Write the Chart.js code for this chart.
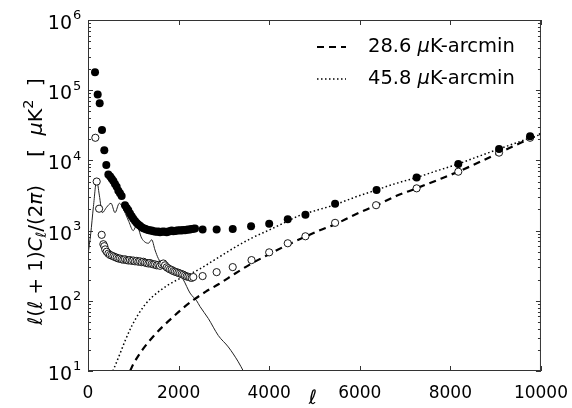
<!DOCTYPE html>
<html>
<head>
<meta charset="utf-8">
<script src="https://cdn.jsdelivr.net/npm/chart.js@4/dist/chart.umd.min.js"></script>
<style>
  html, body { margin: 0; padding: 0; background: #fff; }
  #wrap { width: 572px; height: 408px; }
</style>
</head>
<body>
<div id="wrap"><canvas id="myChart" width="572" height="408"></canvas></div>
<script>
// filled dots
var filledL = [155, 214, 258, 309, 360, 404, 449, 490, 525, 560, 596, 633, 670, 706, 743,
    817, 855, 890, 927, 964, 1000, 1038, 1075, 1110, 1148, 1185, 1222, 1258, 1295, 1333,
    1370, 1406, 1443, 1480, 1517, 1553, 1590, 1627, 1663, 1700, 1737, 1773, 1810, 1847,
    1884, 1920, 1957, 1994, 2030, 2068, 2104, 2141, 2178, 2215, 2252, 2289, 2325, 2362,
    2530, 2840, 3195, 3600, 4000, 4410, 4800, 5455, 6370, 7255, 8175, 9075, 9760];
var filledV = [180000, 87000, 65000, 27000, 14000, 8600, 6300, 5900, 5500, 5100, 4600, 4200, 3700, 3400, 3100,
    2300, 2100, 1950, 1750, 1600, 1470, 1370, 1280, 1220, 1170, 1120, 1080, 1060, 1040, 1020,
    1000, 1000, 980, 970, 960, 970, 950, 960, 970, 960, 950, 970, 980, 1000,
    980, 990, 1000, 1000, 1010, 1000, 1020, 1010, 1030, 1040, 1040, 1050, 1060, 1070,
    1040, 1040, 1050, 1150, 1250, 1450, 1680, 2420, 3800, 5700, 8900, 14500, 22000];

// open circles
var openL = [162, 192, 245, 302, 339, 360, 380, 412, 449, 485, 523, 560, 596, 633, 670, 706,
    743, 780, 817, 855, 890, 927, 964, 1000, 1038, 1075, 1111, 1148, 1185, 1222, 1258, 1295,
    1333, 1370, 1406, 1443, 1480, 1517, 1553, 1590, 1627, 1663, 1700, 1737, 1773, 1810, 1847,
    1884, 1920, 1957, 1994, 2030, 2068, 2104, 2141, 2178, 2215, 2252, 2289, 2325,
    2530, 2840, 3195, 3610, 4000, 4410, 4800, 5455, 6360, 7255, 8175, 9075, 9760];
var openV = [21000, 5000, 2050, 870, 640, 600, 540, 500, 470, 450, 440, 430, 420, 410, 400, 400,
    390, 385, 390, 380, 375, 380, 370, 375, 365, 370, 360, 365, 355, 360, 350, 345,
    340, 345, 335, 330, 330, 320, 325, 315, 330, 340, 320, 300, 290, 280, 275,
    265, 260, 255, 250, 245, 240, 235, 228, 222, 220, 215, 212, 218,
    225, 256, 302, 380, 490, 660, 830, 1290, 2300, 4000, 6900, 12900, 21000];

// 28.6 uK-arcmin noise curve (dashed)
var dashL = [930, 1000, 1200, 1440, 1650, 1880, 2100, 2330, 2600, 2880, 3250, 3610, 4000, 4390,
    4800, 5100, 5420, 5900, 6370, 6800, 7250, 7700, 8170, 8620, 9070, 9530, 10000];
var dashV = [10, 12.5, 20, 31, 43, 59, 79, 103, 135, 172, 245, 340, 460, 620,
    820, 1000, 1200, 1700, 2300, 3100, 4000, 5200, 6900, 9300, 12800, 17500, 24000];

// 45.8 uK-arcmin noise curve (dotted)
var dotL = [550, 680, 820, 960, 1110, 1260, 1410, 1590, 1770, 1960, 2140, 2300, 2470, 2840, 3210,
    3610, 4000, 4340, 4680, 5050, 5420, 5900, 6370, 6800, 7250, 7700, 8170, 8620, 9070, 9530, 10000];
var dotV = [10, 16, 27, 43, 64, 88, 112, 140, 168, 197, 225, 250, 285, 400, 560,
    780, 1020, 1300, 1650, 1950, 2300, 3000, 3800, 4700, 5700, 7100, 8900, 11400, 14500, 18500, 23500];

// thin solid spectrum
var solidL = [0, 60, 120, 192, 250, 316, 410, 508, 596, 692, 800, 900, 1000, 1074, 1185, 1333,
    1406, 1479, 1553, 1663, 1760, 1850, 1958, 2104, 2252, 2330, 2399, 2472, 2656, 2877, 3098, 3318, 3429];
var solidV = [450, 900, 2200, 5200, 3200, 1800, 2150, 2450, 1800, 2450, 1900, 1350, 1000, 1200, 780, 660,
    740, 530, 400, 320, 300, 290, 270, 200, 129, 112, 100, 83, 56, 32, 22, 13.5, 10];

var xTicks = [0, 2000, 4000, 6000, 8000, 10000];
var yDecades = [1, 2, 3, 4, 5, 6];
var legendLabels = ["28.6", "45.8"];

function pts(xs, ys) {
    var out = [];
    for (var i = 0; i < xs.length; i++) out.push({x: xs[i], y: ys[i]});
    return out;
}

var FONT = "'DejaVu Sans', sans-serif";

// draw a run of [text, style, size, dy] pieces starting at x, returns end x
function runText(c, parts, x, y) {
    parts.forEach(function (p) {
        c.font = p[1] + ' ' + p[2] + 'px ' + FONT;
        c.fillText(p[0], x, y + p[3]);
        x += c.measureText(p[0]).width;
    });
    return x;
}
function runWidth(c, parts) {
    var w = 0;
    parts.forEach(function (p) {
        c.font = p[1] + ' ' + p[2] + 'px ' + FONT;
        w += c.measureText(p[0]).width;
    });
    return w;
}

// frame, inward ticks, y labels, axis titles, legend
var decor = {
    id: 'decor',
    afterDraw: function (chart) {
        var c = chart.ctx, a = chart.chartArea;
        var xs = chart.scales.x, ys = chart.scales.y;
        c.save();
        c.strokeStyle = '#333';
        c.lineWidth = 1;
        c.strokeRect(a.left + 0.5, a.top + 0.5, a.right - a.left - 1, a.bottom - a.top - 1);

        // x ticks
        c.beginPath();
        xTicks.forEach(function (v) {
            var px = Math.round(xs.getPixelForValue(v)) + 0.5;
            c.moveTo(px, a.bottom); c.lineTo(px, a.bottom - 5);
            c.moveTo(px, a.top); c.lineTo(px, a.top + 5);
        });
        // y ticks major + minor
        for (var k = 1; k <= 6; k++) {
            for (var m = 1; m <= 9; m++) {
                var v = m * Math.pow(10, k);
                if (v > 1e6) break;
                var py = Math.round(ys.getPixelForValue(v)) + 0.5;
                var len = (m === 1) ? 5 : 3;
                c.moveTo(a.left, py); c.lineTo(a.left + len, py);
                c.moveTo(a.right, py); c.lineTo(a.right - len, py);
            }
        }
        c.stroke();

        // y tick labels 10^k
        c.fillStyle = '#000';
        c.textBaseline = 'middle';
        yDecades.forEach(function (k) {
            var py = ys.getPixelForValue(Math.pow(10, k));
            c.font = '19px ' + FONT;
            c.textAlign = 'right';
            c.fillText('10', 72, py + 4);
            c.font = '13px ' + FONT;
            c.textAlign = 'left';
            c.fillText(String(k), 73, py - 4);
        });

        // x title
        c.font = 'italic 20px ' + FONT;
        c.textAlign = 'center';
        c.textBaseline = 'middle';
        c.fillText('\u2113', 313, 399);

        // y title, rotated; math part runs 325 -> 185, bracket part 157 -> 78
        var fs = 20, ss = 14;
        var mathParts = [
            ['\u2113', 'italic', fs, 0], ['(', '', fs, 0], ['\u2113', 'italic', fs, 0],
            [' + ', '', fs, 0], ['1', '', fs, 0], [')', '', fs, 0], ['C', 'italic', fs, 0],
            ['\u2113', 'italic', ss, 5], ['/', '', fs, 0], ['(', '', fs, 0], ['2', '', fs, 0],
            ['\u03c0', 'italic', fs, 0], [')', '', fs, 0]
        ];
        var unitParts = [
            ['[  ', '', fs, 0], ['\u03bc', 'italic', fs, 0], ['K', '', fs, 0],
            ['2', '', ss, -8], ['  ]', '', fs, 0]
        ];
        c.textAlign = 'left';
        c.textBaseline = 'middle';
        c.translate(37, 325);
        c.rotate(-Math.PI / 2);
        c.save();
        c.scale(140 / runWidth(c, mathParts), 1);
        runText(c, mathParts, 0, 0);
        c.restore();
        c.save();
        c.translate(168, 0);
        c.scale(79 / runWidth(c, unitParts), 1);
        runText(c, unitParts, 0, 0);
        c.restore();
        c.setTransform(1, 0, 0, 1, 0, 0);

        // legend
        var rows = [{y: 47, dash: [7, 5], w: 2.2}, {y: 79, dash: [1.5, 2.5], w: 1.5}];
        rows.forEach(function (r, i) {
            c.beginPath();
            c.setLineDash(r.dash);
            c.lineWidth = r.w;
            c.strokeStyle = '#000';
            c.moveTo(317, r.y); c.lineTo(346, r.y);
            c.stroke();
            c.setLineDash([]);
            c.textAlign = 'left';
            c.textBaseline = 'middle';
            runText(c, [[legendLabels[i] + ' ', '', 19.5, 0], ['\u03bc', 'italic', 19.5, 0],
                ['K-arcmin', '', 19.5, 0]], 368, r.y);
        });
        c.restore();
    }
};

var ctx = document.getElementById("myChart").getContext("2d");
var myChart = new Chart(ctx, {
    type: 'line',
    data: {
        datasets: [
            {
                label: 'filled',
                data: pts(filledL, filledV),
                showLine: false,
                pointRadius: 4,
                pointBackgroundColor: '#000',
                pointBorderColor: '#000',
                pointBorderWidth: 0,
                order: 1
            },
            {
                label: 'open',
                data: pts(openL, openV),
                showLine: false,
                pointRadius: 3.6,
                pointBackgroundColor: '#fff',
                pointBorderColor: '#000',
                pointBorderWidth: 0.9,
                order: 2
            },
            {
                label: '28.6',
                data: pts(dashL, dashV),
                borderColor: '#000',
                borderWidth: 2.2,
                borderDash: [7, 5],
                pointRadius: 0,
                cubicInterpolationMode: 'monotone',
                order: 3
            },
            {
                label: '45.8',
                data: pts(dotL, dotV),
                borderColor: '#000',
                borderWidth: 1.5,
                borderDash: [1.5, 2.5],
                pointRadius: 0,
                cubicInterpolationMode: 'monotone',
                order: 4
            },
            {
                label: 'spectrum',
                data: pts(solidL, solidV),
                borderColor: '#222',
                borderWidth: 1,
                pointRadius: 0,
                cubicInterpolationMode: 'monotone',
                order: 5
            }
        ]
    },
    options: {
        responsive: false,
        animation: false,
        devicePixelRatio: 1,
        layout: { padding: { top: 20, right: 31, left: 0, bottom: 0 } },
        plugins: { legend: { display: false }, tooltip: { enabled: false } },
        scales: {
            x: {
                type: 'linear',
                min: 0,
                max: 10000,
                afterBuildTicks: function (s) {
                    s.ticks = xTicks.map(function (v) { return {value: v}; });
                },
                afterFit: function (s) { s.height = 37; },
                grid: { display: false },
                border: { display: false },
                ticks: {
                    color: '#000',
                    padding: 4,
                    maxRotation: 0,
                    font: { family: 'DejaVu Sans', size: 17 },
                    callback: function (v) { return String(v); }
                }
            },
            y: {
                type: 'logarithmic',
                min: 10,
                max: 1000000,
                afterFit: function (s) { s.width = 88; },
                grid: { display: false },
                border: { display: false },
                ticks: { display: false }
            }
        }
    },
    plugins: [decor]
});
</script>
</body>
</html>
